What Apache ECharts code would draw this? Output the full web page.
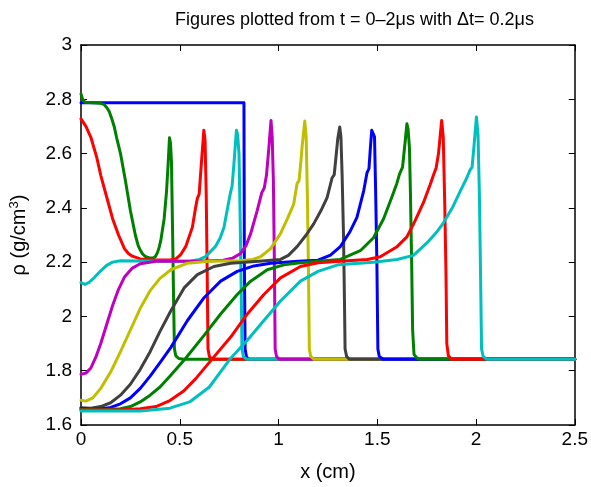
<!DOCTYPE html>
<html>
<head>
<meta charset="utf-8">
<script src="https://cdn.jsdelivr.net/npm/echarts@6/dist/echarts.min.js"></script>
<style>
  html, body { margin: 0; padding: 0; background: #fff; }
  #container { width: 591px; height: 487px; }
</style>
</head>
<body>
<div id="container"></div>
<script>
// density profiles rho(x), one per time step (t = 0 .. 2 us, dt = 0.2 us)
var rho_t00 = [[0, 2.787], [0.825, 2.787], [0.827, 2.2], [0.831, 1.88], [0.838, 1.85], [0.85, 1.842], [2.5, 1.842]];

var rho_t02 = [[0, 2.82], [0.008, 2.8], [0.02, 2.789], [0.06, 2.787], [0.1, 2.785], [0.118, 2.78], [0.13, 2.77],
    [0.143, 2.755], [0.155, 2.73], [0.168, 2.7], [0.18, 2.66], [0.2, 2.6], [0.225, 2.5], [0.25, 2.39],
    [0.275, 2.3], [0.29, 2.26], [0.3, 2.245], [0.312, 2.23], [0.325, 2.221], [0.35, 2.215], [0.365, 2.215],
    [0.376, 2.22], [0.387, 2.235], [0.396, 2.255], [0.404, 2.28], [0.421, 2.36], [0.433, 2.46], [0.441, 2.56],
    [0.448, 2.658], [0.453, 2.64], [0.458, 2.57], [0.464, 2.3], [0.469, 2.05], [0.473, 1.88], [0.48, 1.855],
    [0.495, 1.845], [0.52, 1.842], [2.5, 1.842]];

var rho_t04 = [[0, 2.728], [0.025, 2.7], [0.05, 2.66], [0.08, 2.585], [0.1, 2.52], [0.13, 2.44], [0.16, 2.36],
    [0.19, 2.3], [0.22, 2.25], [0.24, 2.232], [0.26, 2.222], [0.3, 2.212], [0.36, 2.208], [0.45, 2.208],
    [0.48, 2.212], [0.505, 2.228], [0.53, 2.257], [0.564, 2.329], [0.58, 2.4], [0.589, 2.435], [0.598, 2.45],
    [0.609, 2.559], [0.622, 2.686], [0.628, 2.65], [0.634, 2.45], [0.639, 2.15], [0.643, 1.88], [0.65, 1.852],
    [0.665, 1.842], [2.5, 1.842]];

var rho_t06 = [[0, 2.125], [0.02, 2.118], [0.04, 2.125], [0.07, 2.145], [0.1, 2.168], [0.13, 2.188], [0.16, 2.2],
    [0.2, 2.205], [0.4, 2.203], [0.55, 2.203], [0.6, 2.21], [0.63, 2.22], [0.68, 2.257], [0.705, 2.29],
    [0.724, 2.329], [0.749, 2.426], [0.758, 2.46], [0.765, 2.48], [0.774, 2.559], [0.787, 2.686], [0.793, 2.67],
    [0.8, 2.6], [0.806, 2.35], [0.811, 2.1], [0.815, 1.88], [0.822, 1.852], [0.84, 1.842], [2.5, 1.842]];

var rho_t08 = [[0, 1.787], [0.025, 1.791], [0.05, 1.81], [0.075, 1.85], [0.1, 1.9], [0.13, 1.97], [0.16, 2.04],
    [0.19, 2.1], [0.22, 2.145], [0.26, 2.178], [0.3, 2.194], [0.38, 2.203], [0.6, 2.203], [0.72, 2.207],
    [0.766, 2.214], [0.808, 2.232], [0.835, 2.26], [0.859, 2.305], [0.892, 2.39], [0.915, 2.455], [0.928, 2.474],
    [0.939, 2.52], [0.951, 2.62], [0.962, 2.722], [0.968, 2.66], [0.974, 2.5], [0.979, 2.2], [0.983, 1.88],
    [0.99, 1.852], [1.005, 1.842], [2.5, 1.842]];

var rho_t10 = [[0, 1.691], [0.025, 1.688], [0.06, 1.7], [0.1, 1.735], [0.15, 1.795], [0.2, 1.87], [0.25, 1.95],
    [0.3, 2.03], [0.35, 2.095], [0.4, 2.14], [0.455, 2.172], [0.539, 2.196], [0.65, 2.203], [0.8, 2.205],
    [0.87, 2.21], [0.909, 2.22], [0.96, 2.25], [1.01, 2.305], [1.045, 2.36], [1.077, 2.414], [1.094, 2.49],
    [1.104, 2.5], [1.112, 2.56], [1.12, 2.63], [1.133, 2.72], [1.14, 2.66], [1.146, 2.45], [1.152, 2.15],
    [1.156, 1.88], [1.163, 1.853], [1.18, 1.842], [2.5, 1.842]];

var rho_t12 = [[0, 1.664], [0.05, 1.662], [0.1, 1.668], [0.15, 1.682], [0.2, 1.71], [0.25, 1.75], [0.3, 1.805],
    [0.35, 1.87], [0.4, 1.945], [0.455, 2.021], [0.522, 2.105], [0.589, 2.154], [0.673, 2.184], [0.758, 2.196],
    [0.9, 2.203], [1.01, 2.21], [1.05, 2.225], [1.094, 2.257], [1.14, 2.3], [1.178, 2.341], [1.215, 2.39],
    [1.246, 2.438], [1.271, 2.51], [1.282, 2.522], [1.29, 2.58], [1.3, 2.655], [1.31, 2.698], [1.316, 2.66],
    [1.322, 2.52], [1.329, 2.3], [1.334, 2.05], [1.337, 1.88], [1.345, 1.852], [1.36, 1.842], [2.5, 1.842]];

var rho_t14 = [[0, 1.662], [0.05, 1.658], [0.1, 1.659], [0.15, 1.665], [0.2, 1.678], [0.25, 1.7], [0.3, 1.735],
    [0.35, 1.78], [0.4, 1.83], [0.455, 1.886], [0.539, 1.985], [0.623, 2.069], [0.707, 2.13], [0.791, 2.166],
    [0.875, 2.186], [0.96, 2.196], [1.1, 2.203], [1.2, 2.207], [1.263, 2.226], [1.313, 2.257], [1.36, 2.31],
    [1.397, 2.365], [1.431, 2.462], [1.448, 2.529], [1.458, 2.545], [1.465, 2.62], [1.472, 2.686],
    [1.478, 2.683], [1.486, 2.662], [1.492, 2.45], [1.498, 2.2], [1.503, 1.88], [1.51, 1.853], [1.53, 1.842],
    [2.5, 1.842]];

var rho_t16 = [[0, 1.658], [0.1, 1.656], [0.2, 1.66], [0.25, 1.668], [0.3, 1.685], [0.35, 1.71], [0.4, 1.74],
    [0.45, 1.78], [0.53, 1.846], [0.623, 1.93], [0.707, 2.009], [0.791, 2.081], [0.859, 2.13], [0.943, 2.172],
    [1.027, 2.19], [1.111, 2.198], [1.2, 2.203], [1.313, 2.21], [1.414, 2.242], [1.481, 2.29], [1.532, 2.36],
    [1.574, 2.44], [1.599, 2.49], [1.613, 2.525], [1.628, 2.55], [1.642, 2.65], [1.65, 2.71], [1.656, 2.69],
    [1.663, 2.619], [1.668, 2.45], [1.674, 2.2], [1.679, 1.95], [1.686, 1.86], [1.7, 1.847], [1.715, 1.842],
    [2.5, 1.842]];

var rho_t18 = [[0, 1.655], [0.2, 1.655], [0.3, 1.66], [0.38, 1.668], [0.45, 1.69], [0.52, 1.725], [0.58, 1.77],
    [0.673, 1.851], [0.758, 1.924], [0.842, 2.009], [0.926, 2.081], [1.01, 2.142], [1.111, 2.184], [1.2, 2.198],
    [1.35, 2.205], [1.45, 2.21], [1.515, 2.22], [1.6, 2.257], [1.65, 2.293], [1.69, 2.35], [1.734, 2.42],
    [1.768, 2.486], [1.785, 2.522], [1.798, 2.547], [1.81, 2.6], [1.826, 2.722], [1.834, 2.66], [1.842, 2.4],
    [1.848, 2.15], [1.852, 1.9], [1.86, 1.855], [1.875, 1.842], [2.5, 1.842]];

var rho_t20 = [[0, 1.652], [0.3, 1.652], [0.45, 1.662], [0.55, 1.685], [0.65, 1.74], [0.758, 1.846],
    [0.842, 1.912], [0.926, 1.985], [1.01, 2.057], [1.111, 2.13], [1.2, 2.166], [1.3, 2.19], [1.48, 2.2],
    [1.6, 2.21], [1.683, 2.225], [1.75, 2.27], [1.8, 2.31], [1.835, 2.345], [1.88, 2.4], [1.919, 2.46],
    [1.953, 2.51], [1.97, 2.54], [1.98, 2.55], [1.99, 2.63], [2.002, 2.735], [2.01, 2.67], [2.017, 2.45],
    [2.023, 2.15], [2.028, 1.88], [2.036, 1.853], [2.055, 1.842], [2.5, 1.842]];

var profiles = [rho_t00, rho_t02, rho_t04, rho_t06, rho_t08, rho_t10, rho_t12, rho_t14, rho_t16, rho_t18, rho_t20];
// matlab default color order
var lineColors = ['#0000ff', '#008000', '#ff0000', '#00bfbf', '#bf00bf', '#bfbf00', '#404040',
    '#0000ff', '#008000', '#ff0000', '#00bfbf'];

var titleText = 'Figures plotted from t = 0\u20132\u03bcs with \u0394t= 0.2\u03bcs';
var xName = 'x (cm)';
var yName = '\u03c1 (g/cm{sup|3})';

var dom = document.getElementById('container');
var myChart = echarts.init(dom, null, {renderer: 'canvas'});
var font = 'Liberation Sans, Arial, Helvetica, sans-serif';

var series = [];
for (var i = 0; i < profiles.length; i++) {
    series.push({
        type: 'line',
        xAxisIndex: 0,
        yAxisIndex: 0,
        data: profiles[i],
        showSymbol: false,
        symbol: 'none',
        color: lineColors[i],
        lineStyle: {width: 3, color: lineColors[i], join: 'round', cap: 'round'}
    });
}

var tickStyle = {show: true, inside: true, length: 6, lineStyle: {color: '#000', width: 1}};
var lineStyle = {show: true, onZero: false, lineStyle: {color: '#000', width: 1.5}};

option = {
    animation: false,
    backgroundColor: '#fff',
    title: {
        text: titleText,
        left: 170,
        top: 6,
        textStyle: {fontFamily: font, fontSize: 18, fontWeight: 'normal', color: '#000'}
    },
    grid: {left: 80, right: 16, top: 45, bottom: 56},
    xAxis: [{
        type: 'value',
        min: 0,
        max: 2.5,
        interval: 0.5,
        position: 'bottom',
        axisLine: lineStyle,
        axisTick: tickStyle,
        splitLine: {show: false},
        axisLabel: {
            fontFamily: font, fontSize: 19, color: '#000', margin: 5,
            formatter: function (v) { return String(+v.toFixed(1)); }
        },
        name: xName,
        nameLocation: 'middle',
        nameGap: 37,
        nameTextStyle: {fontFamily: font, fontSize: 20, color: '#000'}
    }, {
        type: 'value',
        min: 0,
        max: 2.5,
        interval: 0.5,
        position: 'top',
        axisLine: lineStyle,
        axisTick: tickStyle,
        splitLine: {show: false},
        axisLabel: {show: false}
    }],
    yAxis: [{
        type: 'value',
        min: 1.6,
        max: 3,
        interval: 0.2,
        position: 'left',
        axisLine: lineStyle,
        axisTick: tickStyle,
        splitLine: {show: false},
        axisLabel: {
            fontFamily: font, fontSize: 19, color: '#000', margin: 9,
            formatter: function (v) { return String(+v.toFixed(1)); }
        },
        name: yName,
        nameLocation: 'middle',
        nameGap: 50,
        nameTextStyle: {
            fontFamily: font, fontSize: 20, color: '#000',
            rich: {sup: {fontFamily: font, fontSize: 13, color: '#000', verticalAlign: 'bottom', padding: [0, 0, 10, 0]}}
        }
    }, {
        type: 'value',
        min: 1.6,
        max: 3,
        interval: 0.2,
        position: 'right',
        axisLine: lineStyle,
        axisTick: tickStyle,
        splitLine: {show: false},
        axisLabel: {show: false}
    }],
    series: series
};

if (option && typeof option === 'object') {
    myChart.setOption(option, true);
}
</script>
</body>
</html>
